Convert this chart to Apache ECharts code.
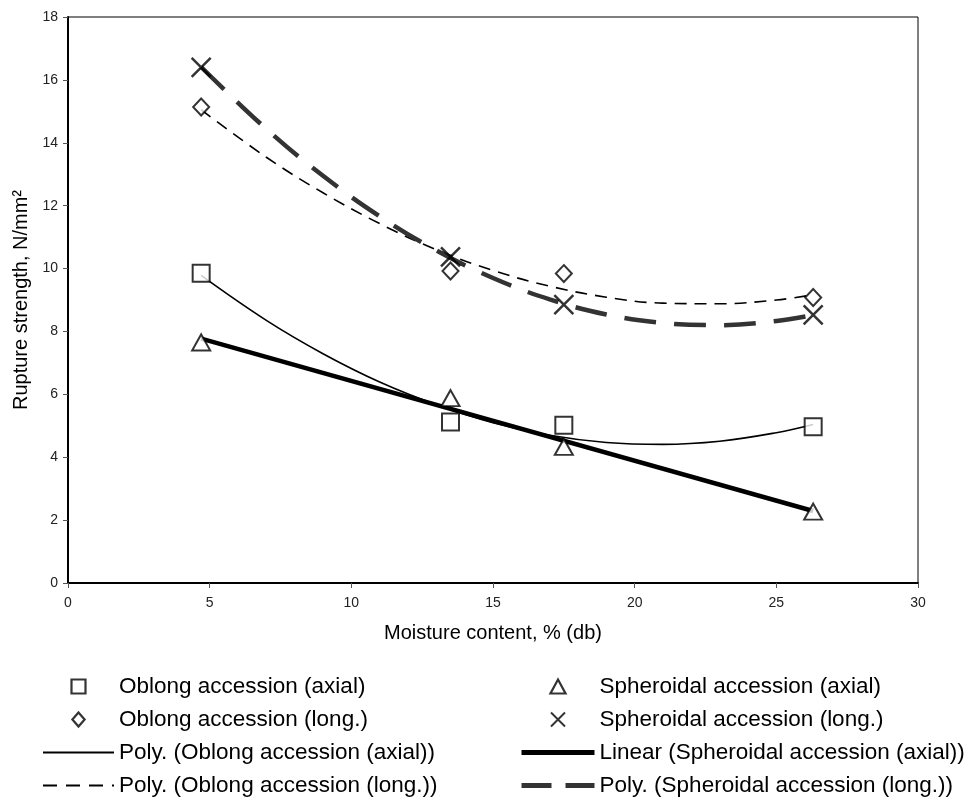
<!DOCTYPE html>
<html>
<head>
<meta charset="utf-8">
<script src="https://cdn.jsdelivr.net/npm/echarts@6/dist/echarts.min.js"></script>
<style>
html,body{margin:0;padding:0;background:#fff;}
#chart{width:971px;height:801px;}
</style>
</head>
<body>
<div id="chart"></div>
<script>
// ---- data ----
const xValues = [4.7, 13.5, 17.5, 26.3];
const oblongAxial = [9.85, 5.12, 5.02, 4.97];
const spheroidalAxial = [7.65, 5.88, 4.33, 2.27];
const oblongLong = [15.14, 9.92, 9.84, 9.08];
const spheroidalLong = [16.4, 10.37, 8.85, 8.53];

// trend lines
const trendX = [4.7, 7, 9, 11, 13, 15, 17, 19, 21, 23, 25, 26.3];
const polyOblongAxial = [9.78, 8.35, 7.29, 6.39, 5.67, 5.10, 4.70, 4.47, 4.41, 4.51, 4.78, 5.04];
const polyOblongLong = [15.05, 13.54, 12.41, 11.43, 10.60, 9.94, 9.44, 9.09, 8.90, 8.88, 9.00, 9.17];
const polySpheroidalLong = [16.41, 14.44, 12.95, 11.66, 10.58, 9.70, 9.02, 8.54, 8.27, 8.20, 8.33, 8.52];
const linearX = [4.7, 26.3];
const linearSpheroidalAxial = [7.77, 2.29];

const xTicks = [0, 5, 10, 15, 20, 25, 30];
const yTicks = [0, 2, 4, 6, 8, 10, 12, 14, 16, 18];

const names = {
  oa: 'Oblong accession (axial)',
  sa: 'Spheroidal accession (axial)',
  ol: 'Oblong accession (long.)',
  sl: 'Spheroidal accession (long.)',
  poa: 'Poly. (Oblong accession (axial))',
  lsa: 'Linear (Spheroidal accession (axial))',
  pol: 'Poly. (Oblong accession (long.))',
  psl: 'Poly. (Spheroidal accession (long.))'
};

const FONT = '"Liberation Sans", Arial, sans-serif';
const zip = (xs, ys) => xs.map((x, i) => [x, ys[i]]);
const XPATH = 'path://M0,0L20,20M20,0L0,20';

const ICON_SQUARE = 'path://M0,0H12V12H0Z';
const ICON_DIAMOND = 'path://M7,0L14,8L7,16L0,8Z';
const ICON_TRIANGLE = 'path://M7,0L14,13L0,13Z';
const ICON_X = 'path://M0,0L12,12M12,0L0,12';

const markerStyle = {color: '#fff', borderColor: '#000', borderWidth: 2};
const PSL_COLOR = '#333';

const legendText = {fontSize: 22.5, color: '#000', fontFamily: FONT, lineHeight: 23};
const hideDot = {opacity: 0};
const iconStyle = {color: '#fff', borderColor: '#000', borderWidth: 2.2};

const chart = echarts.init(document.getElementById('chart'), null, {renderer: 'canvas'});
chart.setOption({
  animation: false,
  backgroundColor: '#fff',
  textStyle: {fontFamily: FONT},
  grid: {left: 68, right: 53, top: 17, bottom: 218, show: true, borderColor: '#000', borderWidth: 1, backgroundColor: 'transparent'},
  xAxis: {
    type: 'value', min: xTicks[0], max: xTicks[xTicks.length - 1], interval: 5,
    name: 'Moisture content, % (db)', nameLocation: 'middle', nameGap: 40,
    nameTextStyle: {fontSize: 20, color: '#000', fontFamily: FONT},
    axisLine: {lineStyle: {color: '#000', width: 2}},
    axisTick: {show: true, length: 5, lineStyle: {color: '#555', width: 1}},
    axisLabel: {fontSize: 14, color: '#222', margin: 13, fontFamily: FONT},
    splitLine: {show: false}
  },
  yAxis: {
    type: 'value', min: yTicks[0], max: yTicks[yTicks.length - 1], interval: 2,
    name: 'Rupture strength, N/mm²', nameLocation: 'middle', nameGap: 37,
    nameTextStyle: {fontSize: 20, color: '#000', fontFamily: FONT},
    axisLine: {lineStyle: {color: '#000', width: 2}},
    axisTick: {show: true, length: 5, lineStyle: {color: '#555', width: 1}},
    axisLabel: {fontSize: 14, color: '#222', margin: 10, fontFamily: FONT},
    splitLine: {show: false}
  },
  legend: [
    {
      orient: 'vertical', left: 42, top: 675, padding: 0,
      itemWidth: 71, itemHeight: 14, itemGap: 10, symbolKeepAspect: true,
      itemStyle: {borderWidth: 2.2},
      textStyle: legendText,
      data: [
        {name: names.oa, icon: ICON_SQUARE, itemStyle: iconStyle},
        {name: names.ol, icon: ICON_DIAMOND, itemStyle: iconStyle},
        {name: names.poa, itemStyle: hideDot, lineStyle: {width: 2}},
        {name: names.pol, itemStyle: hideDot, lineStyle: {width: 2, type: [14, 9]}}
      ]
    },
    {
      orient: 'vertical', left: 519, top: 675, padding: 0,
      itemWidth: 73, itemHeight: 14, itemGap: 10, symbolKeepAspect: true,
      itemStyle: {borderWidth: 2.2},
      textStyle: legendText,
      data: [
        {name: names.sa, icon: ICON_TRIANGLE, itemStyle: iconStyle},
        {name: names.sl, icon: ICON_X, itemStyle: {color: '#000', borderColor: '#000', borderWidth: 2}},
        {name: names.lsa, itemStyle: hideDot, lineStyle: {width: 5}},
        {name: names.psl, itemStyle: hideDot, lineStyle: {width: 5, type: [30, 14]}}
      ]
    }
  ],
  series: [
    {name: names.poa, type: 'line', data: zip(trendX, polyOblongAxial), smooth: 0.4, showSymbol: false, symbol: 'none',
     lineStyle: {color: '#000', width: 1.6, type: 'solid'}, itemStyle: {color: '#000'}, z: 2},
    {name: names.lsa, type: 'line', data: zip(linearX, linearSpheroidalAxial), showSymbol: false, symbol: 'none',
     lineStyle: {color: '#000', width: 4.5, type: 'solid'}, itemStyle: {color: '#000'}, z: 2},
    {name: names.pol, type: 'line', data: zip(trendX, polyOblongLong), smooth: 0.4, showSymbol: false, symbol: 'none',
     lineStyle: {color: '#000', width: 1.6, type: [12, 8]}, itemStyle: {color: '#000'}, z: 2},
    {name: names.psl, type: 'line', data: zip(trendX, polySpheroidalLong), smooth: 0.4, showSymbol: false, symbol: 'none',
     lineStyle: {color: PSL_COLOR, width: 4.5, type: [32, 18]}, itemStyle: {color: PSL_COLOR}, z: 2},
    {name: names.oa, type: 'scatter', data: zip(xValues, oblongAxial), symbol: 'rect', symbolSize: 17,
     itemStyle: markerStyle, z: 5},
    {name: names.sa, type: 'scatter', data: zip(xValues, spheroidalAxial), symbol: 'triangle', symbolSize: [18, 16],
     itemStyle: markerStyle, z: 5},
    {name: names.ol, type: 'scatter', data: zip(xValues, oblongLong), symbol: 'diamond', symbolSize: [16, 17],
     itemStyle: markerStyle, z: 5},
    {name: names.sl, type: 'scatter', data: zip(xValues, spheroidalLong), symbol: XPATH, symbolSize: 19,
     itemStyle: {color: '#000', borderColor: '#000', borderWidth: 2.5}, z: 5}
  ]
});
</script>
</body>
</html>
